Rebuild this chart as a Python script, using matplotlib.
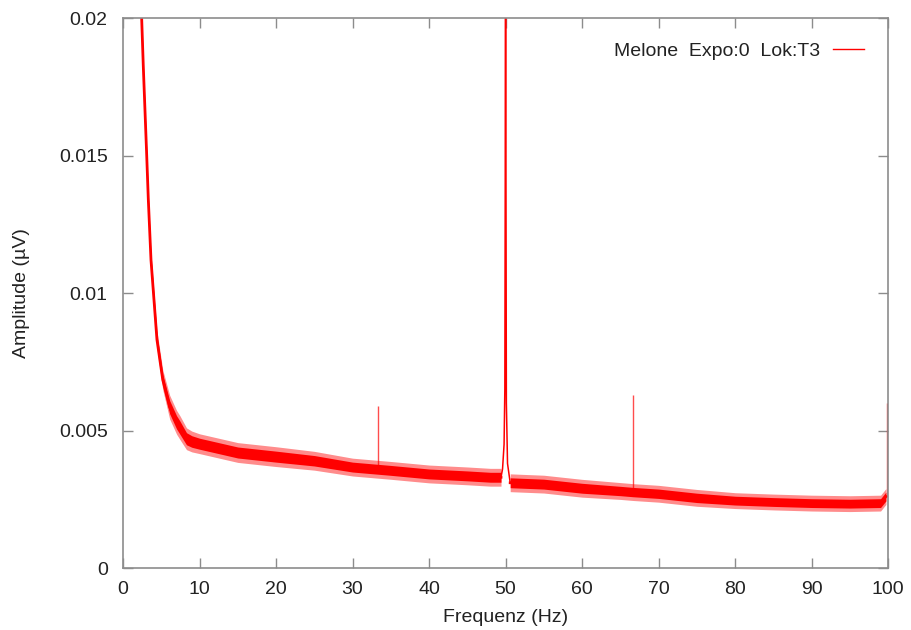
import matplotlib
matplotlib.use("Agg")
import matplotlib.pyplot as plt
from matplotlib.lines import Line2D

# noise floor below the 50 Hz line (band centre and half width)
freq_lo = [2.3, 2.44, 2.66, 3.1, 3.31, 3.66, 4.05, 4.44, 5.2, 6.1, 7.0, 7.45, 8.3,
           9.0, 10, 15, 20, 25, 30, 35, 40, 45, 48, 49.4]
amp_lo = [0.0215, 0.0200, 0.0182, 0.0150, 0.0134, 0.0112, 0.00975, 0.0083,
          0.00684, 0.00585, 0.0053, 0.0051, 0.0047, 0.0046, 0.00452, 0.0042,
          0.00405, 0.0039, 0.00367, 0.00355, 0.00342, 0.00335, 0.0033, 0.0033]
hw_lo = [0.00014, 0.00014, 0.00014, 0.00014, 0.00014, 0.00014, 0.00016, 0.00018,
         0.0002, 0.00024, 0.00024, 0.00024, 0.00022, 0.00021, 0.0002, 0.0002,
         0.0002, 0.00019, 0.00018, 0.00018, 0.00018, 0.00018, 0.00018, 0.00018]

# noise floor above the 50 Hz line
freq_hi = [50.6, 55, 60, 65, 66.7, 70, 75, 80, 85, 90, 95, 99, 99.7]
amp_hi = [0.0031, 0.00305, 0.0029, 0.0028, 0.00276, 0.0027, 0.00255, 0.00245,
          0.0024, 0.00236, 0.00234, 0.00236, 0.0026]
hw_hi = [0.00018, 0.00018, 0.00018, 0.00017, 0.00017, 0.00017, 0.00017, 0.00016,
         0.00016, 0.00016, 0.00016, 0.00016, 0.00016]

# 50 Hz mains peak
freq_peak = [49.4, 49.6, 49.8, 49.9, 49.95, 50.0, 50.05, 50.1, 50.25, 50.6]
amp_peak = [0.0033, 0.0036, 0.0045, 0.0065, 0.014, 0.03, 0.014, 0.006, 0.0038, 0.0031]

# narrow spikes
spike_freq = [33.3, 66.7, 99.9]
spike_amp = [0.0059, 0.0063, 0.0060]
spike_base = [0.00365, 0.00276, 0.0026]

red = "#ff0000"
grey = "#8c8c8c"

plt.rcParams["font.family"] = ["Liberation Sans", "DejaVu Sans"]

fig = plt.figure(figsize=(9.11, 6.30), dpi=100)
ax = fig.add_axes([0.135, 0.0984, 0.84, 0.873])

for f, a, h in [(freq_lo, amp_lo, hw_lo), (freq_hi, amp_hi, hw_hi)]:
    lo = [v - w * 1.8 for v, w in zip(a, h)]
    up = [v + w * 1.8 for v, w in zip(a, h)]
    ax.fill_between(f, lo, up, color=red, alpha=0.45, lw=0)
    lo = [v - w for v, w in zip(a, h)]
    up = [v + w for v, w in zip(a, h)]
    ax.fill_between(f, lo, up, color=red, lw=0)
    ax.plot(f, a, color=red, lw=2.0)

ax.plot(freq_peak, amp_peak, color=red, lw=1.1)
ax.vlines(spike_freq, spike_base, spike_amp, color=red, lw=1.0, alpha=0.7)

ax.set_xlim(0, 100)
ax.set_ylim(0, 0.02)
ax.set_xticks(range(0, 101, 10))
ax.set_yticks([0, 0.005, 0.01, 0.015, 0.02])
ax.set_yticklabels(["0", "0.005", "0.01", "0.015", "0.02"])

for s in ax.spines.values():
    s.set_color(grey)
    s.set_linewidth(1.2)
ax.tick_params(direction="in", length=7, width=1, color=grey,
               top=True, right=True, labelsize=14, labelcolor="#222222")
ax.tick_params(axis="y", pad=11)
ax.tick_params(axis="x", pad=9)

ax.set_xlabel("Frequenz (Hz)", fontsize=14, color="#222222", labelpad=8)
ax.set_ylabel("Amplitude (\u00b5V)", fontsize=14, color="#222222", labelpad=21)

handle = Line2D([], [], color=red, lw=1)
ax.legend([handle], ["Melone  Expo:0  Lok:T3"], loc="upper right",
          frameon=False, markerfirst=False, handlelength=1.6, fontsize=14,
          borderaxespad=0.85, handletextpad=0.65, labelcolor="#222222")

fig.savefig("out.png", dpi=100)
